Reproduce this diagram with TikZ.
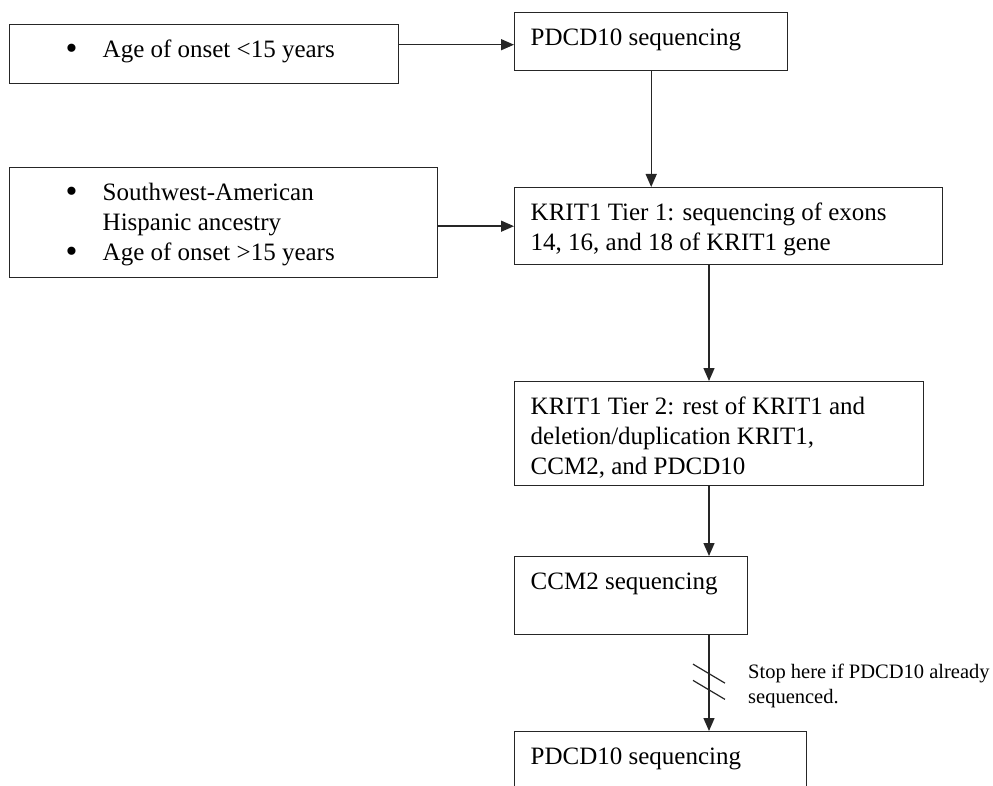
\documentclass[tikz,border=0pt]{standalone}
\usepackage{fontspec}
\setmainfont{Liberation Serif}
\usetikzlibrary{arrows.meta}
\tikzset{
	stagebox/.style={
		draw=black!85, line width=1.4pt, inner sep=0pt, anchor=north west,
		font={\fontsize{25}{30}\selectfont}
	},
	flow/.style={draw=black!85, line width=1.4pt, -{Triangle[length=13pt,width=11pt]}},
	breakmark/.style={draw=black!85, line width=1.2pt},
	notetext/.style={inner sep=0pt, anchor=north west, font={\fontsize{20.5}{25}\selectfont}},
}
% width, height, left inset, text
\newcommand\boxtext[4]{%
	\parbox[c][#2pt][t]{#1pt}{\raggedright\leftskip=#3pt\vspace*{12pt}\strut#4}}
\newcommand\itembullet{\makebox[37pt][l]{\raisebox{-1.5pt}{\fontsize{34}{30}\selectfont\textbullet}}}
\def\bulletgap{37pt}

\begin{document}
\begin{tikzpicture}[x=1pt, y=-1pt]
\useasboundingbox (0,0) rectangle (993,786);
\coordinate (spine) at (709,0);

\node[stagebox] (onset) at (9,24) {\boxtext{389}{59}{56}{\itembullet Age of onset <15 years}};
\node[stagebox] (pdcdA) at (514,12) {\boxtext{273}{58}{16}{PDCD10 sequencing}};
\node[stagebox] (ancestry) at (9,167) {\boxtext{428}{110}{56}{\itembullet Southwest-American\\
	\hspace*{\bulletgap}Hispanic ancestry\\ \itembullet Age of onset >15 years}};
\node[stagebox] (tierA) at (514,187) {\boxtext{428}{77}{16}{KRIT1 Tier 1: sequencing of exons\\
	14, 16, and 18 of KRIT1 gene}};
\node[stagebox] (tierB) at (514,381) {\boxtext{409}{104}{16}{KRIT1 Tier 2: rest of KRIT1 and\\
	deletion/duplication KRIT1,\\ CCM2, and PDCD10}};
\node[stagebox] (ccm) at (514,556) {\boxtext{233}{78}{16}{CCM2 sequencing}};
\node[stagebox] (pdcdB) at (514,731) {\boxtext{292}{80}{16}{PDCD10 sequencing}};
\node[notetext] (stopnote) at (748,660.5) {\parbox[t]{250pt}{\raggedright\strut
	Stop here if PDCD10 already\\ sequenced.}};

\draw[flow] ([yshift=-3pt]pdcdA.west -| onset.east) -- ([yshift=-3pt]pdcdA.west);
\draw[flow] (ancestry.east |- tierA.west) -- (tierA.west);
\draw[flow] (pdcdA.south) -- (pdcdA.south |- tierA.north);
\draw[flow] (tierA.south -| spine) -- (tierB.north -| spine);
\draw[flow] (tierB.south -| spine) -- (ccm.north -| spine);
\draw[flow] (ccm.south -| spine) -- coordinate[pos=0.4] (cutA) coordinate[pos=0.57] (cutB)
	(pdcdB.north -| spine);
\draw[breakmark] ([shift={(-16,-9.5)}]cutA) -- ([shift={(16,9.5)}]cutA);
\draw[breakmark] ([shift={(-16,-9.5)}]cutB) -- ([shift={(16,9.5)}]cutB);
\end{tikzpicture}
\end{document}
